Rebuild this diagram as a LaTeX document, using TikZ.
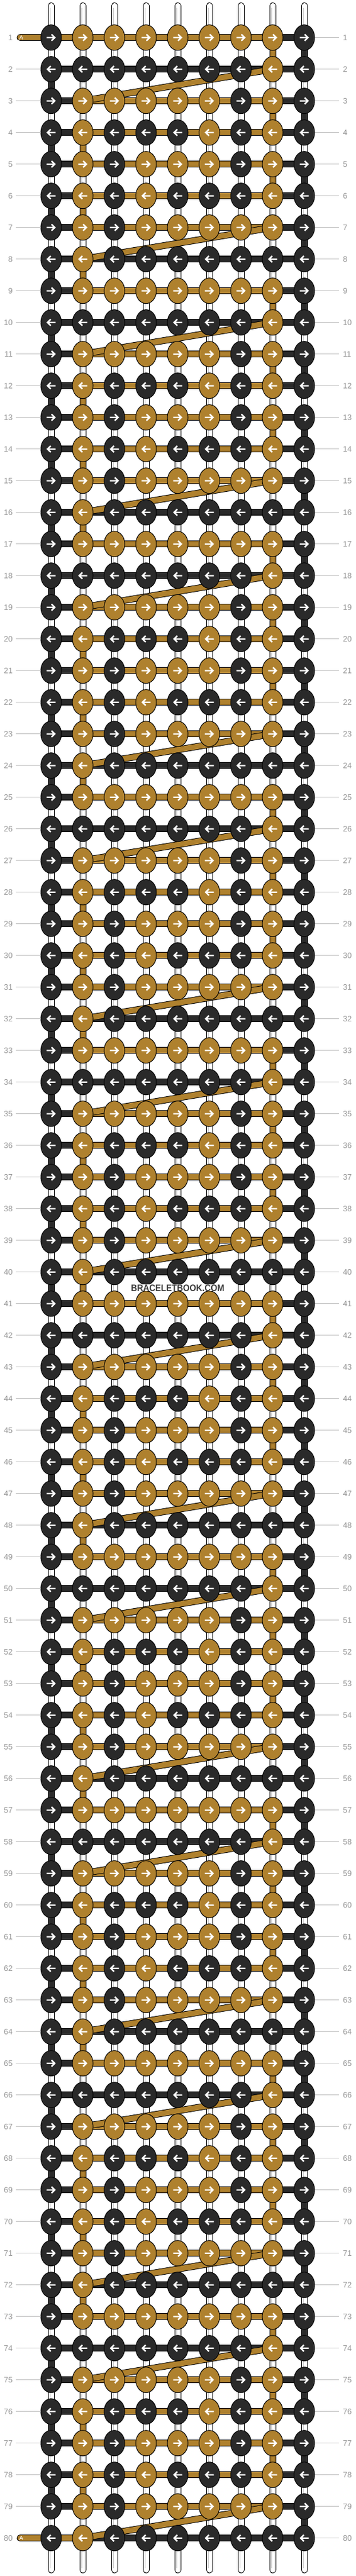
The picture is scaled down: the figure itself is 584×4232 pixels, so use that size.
\documentclass[tikz,border=0pt]{standalone}
\usepackage{fontspec}
\setmainfont{Liberation Sans}
\usepackage{xcolor}
\usetikzlibrary{shapes.geometric}

\definecolor{tblack}{RGB}{42,42,42}
\definecolor{tgold}{RGB}{175,129,46}
\definecolor{numgray}{RGB}{150,150,150}
\definecolor{tickgray}{RGB}{192,192,192}
\definecolor{tubegray}{RGB}{200,200,200}
\definecolor{markgray}{RGB}{58,58,58}

\pgfdeclarelayer{threads}
\pgfdeclarelayer{bands}
\pgfsetlayers{threads,bands,main}

\tikzset{
  thread/.style={draw=black, double=#1, double distance=9pt, line width=1pt},
  strB/.style={thread=tblack},
  strG/.style={thread=tgold},
  strW/.style={},
  hollow/.style={thread=white, line cap=round},
  tube/.style={draw=tubegray, line width=0.8pt},
  knot/.style={ellipse, draw=black, line width=1pt, minimum width=34pt, minimum height=42pt, inner sep=0pt},
  knB/.style={knot, fill=tblack},
  knG/.style={knot, fill=tgold},
  arw/.style={draw=white, line width=2.4pt, line join=miter},
  rownum/.style={text=numgray, inner sep=0pt, font=\fontsize{13}{13}\selectfont},
  tick/.style={draw=tickgray, line width=1pt},
  tagA/.style={text=white, inner sep=0pt, font=\fontsize{10}{10}\selectfont},
  wmark/.style={fill=white, inner sep=0pt, text=markgray, font=\bfseries\fontsize{15.4}{15.4}\selectfont}
}

% one block of 8 rows: knots / threads between knots / threads down to next row
\def\rowtypes{%
  1/{knB,knG,knG,knG,knG,knG,knG,knG,knB}/{strB,strG,strG,strG,strG,strG,strG,strB}/{strW,strW,strW,strW,strW,strW,strW,strG,strB},%
  2/{knB,knB,knB,knB,knB,knB,knB,knG,knB}/{strB,strB,strB,strB,strB,strB,strB,strB}/{strB,strW,strW,strW,strW,strW,strW,strW,strW},%
  3/{knB,knG,knG,knG,knG,knG,knB,knG,knB}/{strB,strG,strG,strG,strG,strG,strG,strB}/{strW,strW,strW,strW,strW,strW,strW,strG,strB},%
  4/{knB,knG,knB,knB,knB,knG,knB,knG,knB}/{strB,strG,strG,strG,strG,strG,strG,strB}/{strB,strG,strW,strW,strW,strW,strW,strW,strW},%
  5/{knB,knG,knB,knG,knG,knG,knB,knG,knB}/{strB,strG,strG,strG,strG,strG,strG,strB}/{strW,strW,strW,strW,strW,strW,strW,strG,strB},%
  6/{knB,knG,knB,knG,knB,knB,knB,knG,knB}/{strB,strG,strG,strG,strG,strG,strG,strB}/{strB,strG,strW,strW,strW,strW,strW,strW,strW},%
  7/{knB,knG,knB,knG,knG,knG,knG,knG,knB}/{strB,strG,strG,strG,strG,strG,strG,strB}/{strW,strW,strW,strW,strW,strW,strW,strW,strB},%
  8/{knB,knG,knB,knB,knB,knB,knB,knB,knB}/{strB,strB,strB,strB,strB,strB,strB,strB}/{strB,strG,strW,strW,strW,strW,strW,strW,strW}%
}

\begin{document}
\begin{tikzpicture}[x=1pt, y=-1pt]
  \useasboundingbox (0,0) rectangle (584,4232);

  \foreach \row in {1,...,80}
    \foreach \col in {1,...,9}
      \coordinate (p-\row-\col) at ({32+52*\col}, {9.7+52*\row});

  % the nine base threads, top to bottom
  \foreach \col in {1,...,9}{
    \coordinate (t-\col) at ({32+52*\col}, 9.5);
    \coordinate (b-\col) at ({32+52*\col}, 4222);
    \begin{pgfonlayer}{threads}
      \draw[hollow] (t-\col) -- (b-\col);
      \draw[tube] ([xshift=-1.5pt, yshift=-3pt]t-\col) -- ([xshift=-1.5pt, yshift=3pt]b-\col);
    \end{pgfonlayer}
  }

  \foreach \blk in {0,...,9}{
    \foreach \ty/\kn/\hb/\vb in \rowtypes{
      \pgfmathtruncatemacro\row{8*\blk+\ty}
      \pgfmathtruncatemacro\nrow{\row+1}
      \begin{pgfonlayer}{threads}
        \foreach \st [count=\col] in \hb{
          \pgfmathtruncatemacro\ncol{\col+1}
          \path[\st] (p-\row-\col) -- (p-\row-\ncol);
        }
        \ifnum\row<80
          {\foreach \st [count=\col] in \vb{\path[\st] (p-\row-\col) -- (p-\nrow-\col);}}
        \fi
      \end{pgfonlayer}
      \begin{pgfonlayer}{bands}
        \ifnum\ty=2 \path[strG] (p-\row-8) -- (p-\nrow-2);\fi
        \ifnum\ty=7 \path[strG] (p-\row-8) -- (p-\nrow-2);\fi
      \end{pgfonlayer}
      \ifodd\ty \def\dir{1}\else\def\dir{-1}\fi
      \foreach \kc [count=\col] in \kn{
        \node[\kc] (k-\row-\col) at (p-\row-\col) {};
        \draw[arw, shift={(k-\row-\col.center)}, xscale=\dir] (-7.3,0) -- (6,0) (0.6,-5.2) -- (6,0) -- (0.6,5.2);
      }
      \node[rownum, anchor=east] (nl-\row) at (21, {9.7+52*\row}) {\row};
      \node[rownum, anchor=west] (nr-\row) at (563.5, {9.7+52*\row}) {\row};
      \draw[tick] (k-\row-9.east) -- ([xshift=-6.5pt]nr-\row.west);
      \ifnum\row>1 \ifnum\row<80
        \draw[tick] ([xshift=4.5pt]nl-\row.east) -- (k-\row-1.west);
      \fi\fi
    }
  }

  % thread A comes in at row 1 and goes out at row 80
  \coordinate (a-in) at (33, 61.7);
  \coordinate (a-out) at (33, 4117.7+52);
  \begin{pgfonlayer}{threads}
    \draw[strG, line cap=round] (a-in) -- (p-1-1);
    \path[strG] (p-1-1) -- (p-1-2);
    \draw[strG, line cap=round] (a-out) -- (p-80-1);
    \path[strG] (p-80-1) -- (p-80-2);
  \end{pgfonlayer}
  \node[tagA] (tag-in) at (35, 61.7) {A};
  \node[tagA] (tag-out) at (35, 4169.7) {A};

  \node[wmark] (wm) at (292, 2115.7) {\scalebox{0.9}[1]{BRACELETBOOK.COM}};
\end{tikzpicture}
\end{document}
